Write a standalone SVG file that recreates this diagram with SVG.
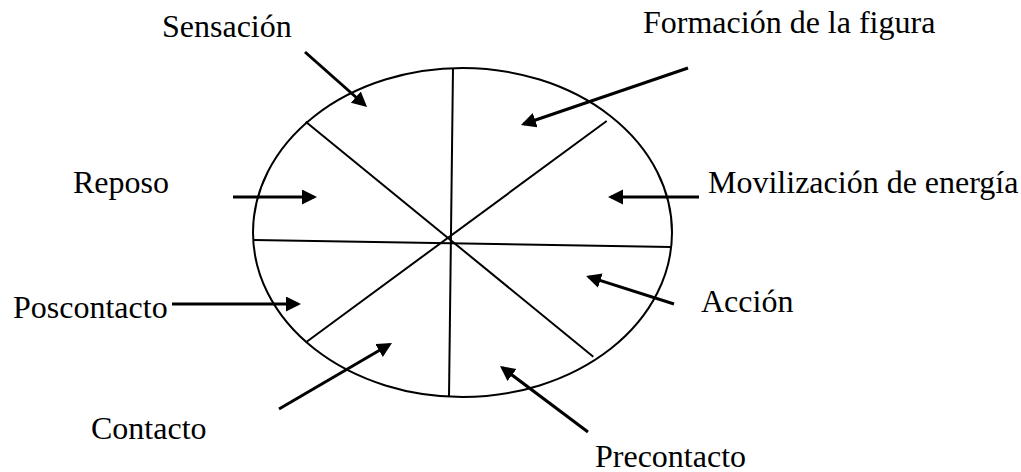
<svg xmlns="http://www.w3.org/2000/svg" width="1021" height="472" viewBox="0 0 1021 472">
<style>
.lbl{font-family:"Liberation Serif","Times New Roman",serif;font-size:32px;fill:#000}
.div{stroke:#000;stroke-width:2;fill:none}
.arr{stroke:#000;stroke-width:3;fill:none;marker-end:url(#ah)}
</style>
<defs>
<marker id="ah" markerUnits="userSpaceOnUse" markerWidth="16" markerHeight="16" refX="12" refY="7.5" orient="auto">
<path d="M0,0 L15,7.5 L0,15 z" fill="#000"/>
</marker>
</defs>
<rect width="1021" height="472" fill="#fff"/>
<g id="wheel">
<ellipse cx="462.5" cy="232.5" rx="209.5" ry="164.5" class="div"/>
<line x1="453" y1="68" x2="449" y2="397" class="div"/>
<line x1="253" y1="240" x2="671" y2="247" class="div"/>
<line x1="305.7" y1="121.7" x2="593.3" y2="356.7" class="div"/>
<line x1="606.7" y1="121" x2="306.7" y2="341.7" class="div"/>
</g>
<g id="connectors">
<line x1="305" y1="52" x2="364.8" y2="105" class="arr"/>
<line x1="688" y1="68" x2="523.8" y2="124" class="arr"/>
<line x1="233" y1="197" x2="314" y2="197" class="arr"/>
<line x1="699" y1="197" x2="611" y2="197" class="arr"/>
<line x1="172" y1="304" x2="298" y2="304" class="arr"/>
<line x1="279" y1="409" x2="389.4" y2="344.5" class="arr"/>
<line x1="588" y1="432" x2="502.4" y2="367.8" class="arr"/>
<line x1="674" y1="304" x2="588.9" y2="276.9" class="arr"/>
</g>
<g id="sensacion"><text class="lbl" x="162" y="37">Sensación</text></g>
<g id="formacion"><text class="lbl" x="643" y="33">Formación de la figura</text></g>
<g id="reposo"><text class="lbl" x="73" y="193">Reposo</text></g>
<g id="movilizacion"><text class="lbl" x="708" y="193">Movilización de energía</text></g>
<g id="poscontacto"><text class="lbl" x="13" y="318">Poscontacto</text></g>
<g id="accion"><text class="lbl" x="701" y="312">Acción</text></g>
<g id="contacto"><text class="lbl" x="91" y="439">Contacto</text></g>
<g id="precontacto"><text class="lbl" x="595" y="467">Precontacto</text></g>
</svg>
